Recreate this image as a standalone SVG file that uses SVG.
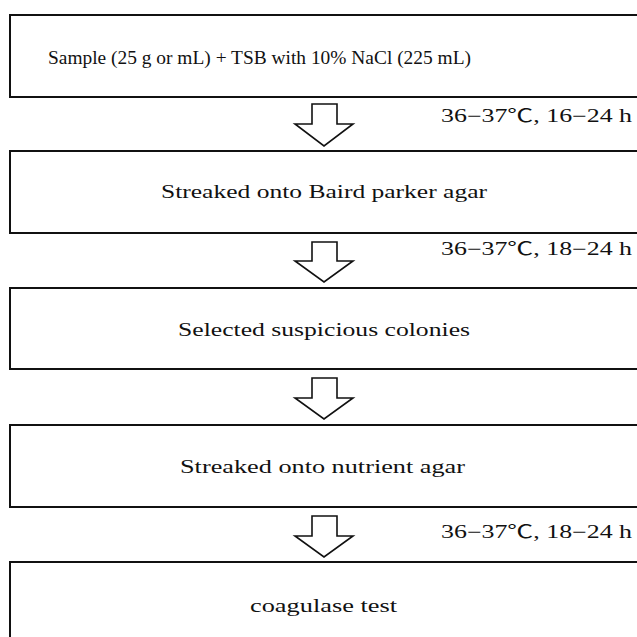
<svg xmlns="http://www.w3.org/2000/svg" width="637" height="637" viewBox="0 0 637 637">
<defs>
<style>
.box{fill:#fff;stroke:#111;stroke-width:2}
.arrow{fill:#fff;stroke:#111;stroke-width:1.6;stroke-linejoin:miter}
.t{font-family:"Liberation Serif","Noto Sans CJK KR",serif;font-size:18px;fill:#111}
.lbl{font-family:"Liberation Serif","Noto Sans CJK KR",serif;font-size:18px;fill:#111}
</style>
</defs>
<rect width="637" height="637" fill="#fff"/>
<g id="connectors">
<path class="arrow" d="M312,104 V124 H295 L324,146 L353,124 H337 V104 Z"/>
<path class="arrow" d="M312,242 V261 H295 L324,282 L353,261 H337 V242 Z"/>
<path class="arrow" d="M312,378 V398 H295 L324,419 L353,398 H337 V378 Z"/>
<path class="arrow" d="M312,516 V536 H295 L324,557 L353,536 H337 V516 Z"/>
<text class="lbl" x="441" y="122" textLength="191" lengthAdjust="spacingAndGlyphs">36−37℃, 16−24 h</text>
<text class="lbl" x="441" y="255" textLength="191" lengthAdjust="spacingAndGlyphs">36−37℃, 18−24 h</text>
<text class="lbl" x="441" y="538" textLength="191" lengthAdjust="spacingAndGlyphs">36−37℃, 18−24 h</text>
</g>
<g id="node1">
<rect class="box" x="10" y="15" width="640" height="82"/>
<text class="t" x="48" y="64" textLength="423" lengthAdjust="spacingAndGlyphs">Sample (25 g or mL) + TSB with 10% NaCl (225 mL)</text>
</g>
<g id="node2">
<rect class="box" x="10" y="151" width="640" height="82"/>
<text class="t" x="161" y="198" textLength="326" lengthAdjust="spacingAndGlyphs">Streaked onto Baird parker agar</text>
</g>
<g id="node3">
<rect class="box" x="10" y="288" width="640" height="81"/>
<text class="t" x="178" y="336" textLength="292" lengthAdjust="spacingAndGlyphs">Selected suspicious colonies</text>
</g>
<g id="node4">
<rect class="box" x="10" y="425" width="640" height="82"/>
<text class="t" x="180" y="473" textLength="285" lengthAdjust="spacingAndGlyphs">Streaked  onto nutrient agar</text>
</g>
<g id="node5">
<rect class="box" x="10" y="562" width="640" height="90"/>
<text class="t" x="250" y="612" textLength="147" lengthAdjust="spacingAndGlyphs">coagulase test</text>
</g>
</svg>
